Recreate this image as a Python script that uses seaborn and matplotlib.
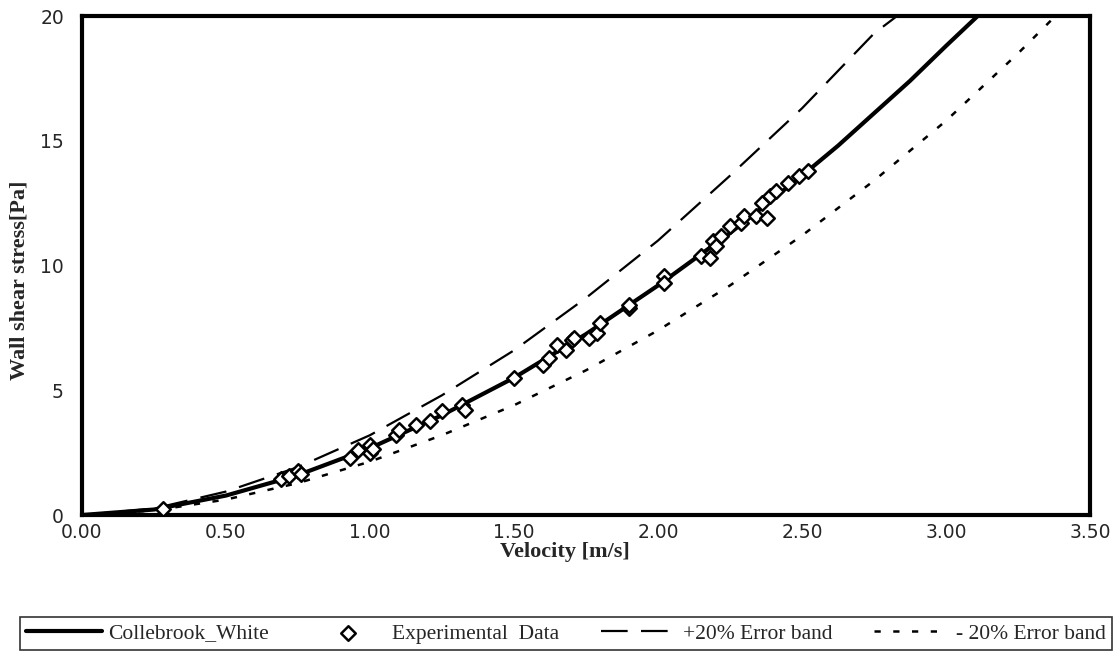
import matplotlib
matplotlib.use("Agg")
import matplotlib.pyplot as plt
import seaborn as sns
import pandas as pd

# Collebrook-White model curve
cw_v = [0.0, 0.25, 0.50, 0.75, 1.00, 1.25, 1.50, 1.75, 2.00, 2.25, 2.50, 2.625, 2.75, 2.875, 3.00, 3.11]
cw_tau = [0.0, 0.22, 0.78, 1.60, 2.68, 4.00, 5.50, 7.25, 9.20, 11.30, 13.60, 14.80, 16.10, 17.40, 18.80, 20.0]

# +20% error band
up_v = [0.0, 0.25, 0.50, 0.75, 1.00, 1.25, 1.50, 1.75, 2.00, 2.25, 2.50, 2.625, 2.75, 2.83]
up_tau = [0.0, 0.26, 0.94, 1.92, 3.20, 4.80, 6.60, 8.70, 11.00, 13.60, 16.30, 17.80, 19.30, 20.0]

# -20% error band
lo_v = [0.0, 0.25, 0.50, 0.75, 1.00, 1.25, 1.50, 1.75, 2.00, 2.25, 2.50, 2.75, 3.00, 3.25, 3.38]
lo_tau = [0.0, 0.18, 0.62, 1.28, 2.14, 3.20, 4.40, 5.80, 7.40, 9.20, 11.20, 13.40, 15.80, 18.50, 20.0]

# Experimental data
exp_v = [0.28, 0.69, 0.72, 0.75, 0.76, 0.93, 0.96, 1.00, 1.00, 1.01,
         1.09, 1.10, 1.16, 1.21, 1.25, 1.32, 1.33,
         1.50, 1.60, 1.62, 1.65, 1.68, 1.70, 1.71, 1.76, 1.79, 1.80,
         1.90, 1.90, 2.02, 2.02,
         2.15, 2.18, 2.19, 2.20, 2.22, 2.25, 2.29, 2.30, 2.34, 2.36, 2.38,
         2.39, 2.41, 2.45, 2.49, 2.52]
exp_tau = [0.25, 1.45, 1.55, 1.75, 1.65, 2.30, 2.60, 2.80, 2.50, 2.65,
           3.20, 3.40, 3.60, 3.75, 4.15, 4.40, 4.20,
           5.50, 6.00, 6.30, 6.80, 6.60, 7.00, 7.10, 7.10, 7.30, 7.70,
           8.30, 8.40, 9.60, 9.30,
           10.40, 10.30, 11.00, 10.80, 11.20, 11.60, 11.70, 12.00, 12.00, 12.50, 11.90,
           12.80, 13.00, 13.30, 13.60, 13.80]

x_ticks = [0.0, 0.5, 1.0, 1.5, 2.0, 2.5, 3.0, 3.5]
x_tick_labels = ["0.00", "0.50", "1.00", "1.50", "2.00", "2.50", "3.00", "3.50"]
y_ticks = [0, 5, 10, 15, 20]

sns.set_style("white")
plt.rcParams["font.family"] = ["DejaVu Sans"]
serif = ["Liberation Serif", "DejaVu Serif"]

fig = plt.figure(figsize=(11.17, 6.52), dpi=100)
ax = fig.add_axes([0.0734, 0.2101, 0.9024, 0.7653])

df_cw = pd.DataFrame({"v": cw_v, "tau": cw_tau})
df_up = pd.DataFrame({"v": up_v, "tau": up_tau})
df_lo = pd.DataFrame({"v": lo_v, "tau": lo_tau})
df_exp = pd.DataFrame({"v": exp_v, "tau": exp_tau})

sns.lineplot(data=df_cw, x="v", y="tau", ax=ax, color="black", linewidth=3.0,
             label="Collebrook_White", sort=False, zorder=3)
sns.scatterplot(data=df_exp, x="v", y="tau", ax=ax, marker="D", s=55,
                facecolor="white", edgecolor="black", linewidth=1.8,
                label="Experimental  Data", zorder=4)
sns.lineplot(data=df_up, x="v", y="tau", ax=ax, color="black", linewidth=1.6,
             label="+20% Error band", sort=False, zorder=2)
sns.lineplot(data=df_lo, x="v", y="tau", ax=ax, color="black", linewidth=1.8,
             label="- 20% Error band", sort=False, zorder=2)
lines = ax.get_lines()
lines[1].set_dashes([12, 6])
lines[2].set_dashes([2.5, 5])

ax.set_xlim(0, 3.5)
ax.set_ylim(0, 20)
ax.set_xticks(x_ticks)
ax.set_xticklabels(x_tick_labels, fontsize=13.5)
ax.set_yticks(y_ticks)
ax.set_yticklabels([str(t) for t in y_ticks], fontsize=13.5)
ax.tick_params(axis="both", direction="out", length=3, width=1, color="black")
ax.tick_params(axis="x", pad=3)
ax.tick_params(axis="y", pad=10)

for sp in ax.spines.values():
    sp.set_color("black")
    sp.set_linewidth(3.0)

ax.set_xlabel("Velocity [m/s]", fontsize=16, fontweight="bold", family=serif)
ax.xaxis.set_label_coords(0.479, -0.054)
ax.set_ylabel("Wall shear stress[Pa]", fontsize=16, fontweight="bold", family=serif)
ax.yaxis.set_label_coords(-0.052, 0.47)

handles, labels = ax.get_legend_handles_labels()
ax.get_legend().remove()
leg = fig.legend(handles, labels, loc="lower left",
                 bbox_to_anchor=(0.0179, 0.003, 0.9776, 0.077), mode="expand",
                 ncol=4, frameon=True, fancybox=False, edgecolor="black",
                 borderaxespad=0, borderpad=0.3, handlelength=3.5, handletextpad=0.3,
                 prop={"family": serif, "size": 15.5})
leg.get_frame().set_linewidth(1.2)

fig.savefig("out.png", dpi=100)
